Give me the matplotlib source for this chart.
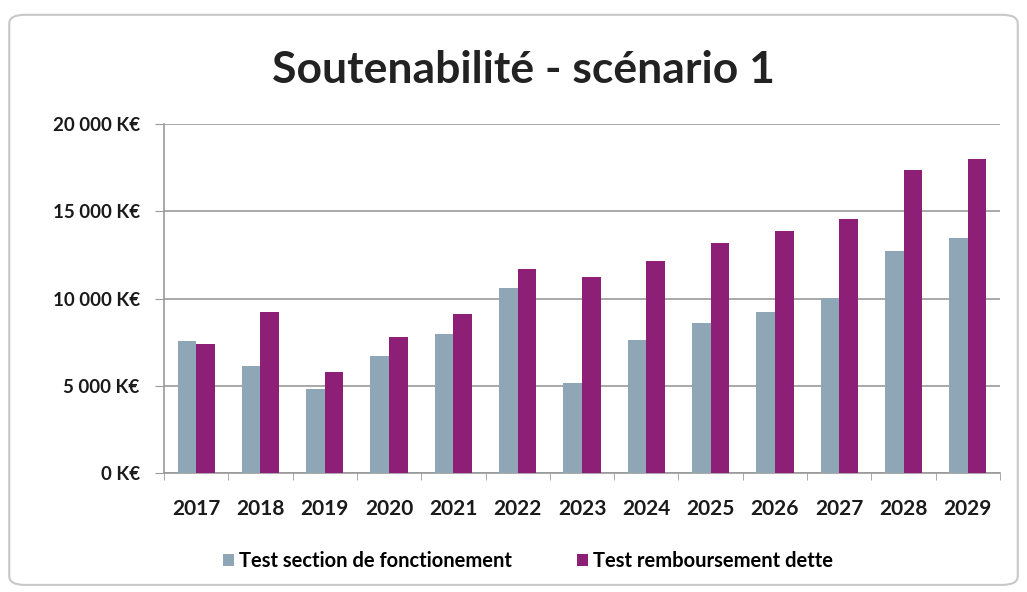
import matplotlib.pyplot as plt
import numpy as np
from matplotlib.patches import FancyBboxPatch

plt.rcParams['font.family'] = ['Lato', 'DejaVu Sans']

years = ['2017', '2018', '2019', '2020', '2021', '2022', '2023',
         '2024', '2025', '2026', '2027', '2028', '2029']
test_fonctionnement = [7560, 6130, 4830, 6700, 7990, 10630, 5180,
                       7610, 8570, 9210, 10030, 12730, 13440]
test_remboursement = [7370, 9250, 5800, 7820, 9100, 11680, 11210,
                      12160, 13190, 13880, 14540, 17370, 18000]

grey = '#8fa6b6'
purple = '#8e1f76'

fig = plt.figure(figsize=(10.27, 5.92), dpi=100)

# outer rounded frame, kept behind the axes
frame = FancyBboxPatch((0.009, 0.012), 0.982, 0.963, boxstyle='round,pad=0,rounding_size=0.015',
                       transform=fig.transFigure, facecolor='white', edgecolor='#c8c8c8',
                       linewidth=1.5, zorder=-5)
fig.patches.append(frame)

ax = fig.add_axes([0.1597, 0.201, 0.814, 0.5895])
ax.patch.set_alpha(0)
x = np.arange(len(years))
w = 0.29
ax.bar(x - w / 2, test_fonctionnement, w, color=grey, label='Test section de fonctionement', zorder=3)
ax.bar(x + w / 2, test_remboursement, w, color=purple, label='Test remboursement dette', zorder=3)

ax.set_xlim(-0.5, len(years) - 0.5)
ax.set_ylim(0, 20000)
ax.set_yticks(range(0, 20001, 5000))
ax.set_yticklabels(['0 K€', '5 000 K€', '10 000 K€', '15 000 K€', '20 000 K€'],
                   fontsize=13.5, fontweight='bold', color='#1a1a1a')
ax.yaxis.grid(True, color='#9a9a9a', linewidth=1.2, zorder=0)
ax.tick_params(axis='y', length=6.5, color='#9a9a9a', pad=11)

ax.set_xticks(x)
ax.set_xticklabels(years, fontsize=15, fontweight='bold', color='#1a1a1a')
ax.set_xticks(np.arange(-0.5, len(years)), minor=True)
ax.tick_params(axis='x', which='major', length=0, pad=19)
ax.tick_params(axis='x', which='minor', length=5, color='#9a9a9a')

for s in ['top', 'right']:
    ax.spines[s].set_visible(False)
for s in ['left', 'bottom']:
    ax.spines[s].set_color('#9a9a9a')
    ax.spines[s].set_linewidth(1.2)

fig.text(0.51, 0.882, 'Soutenabilité - scénario 1', ha='center', va='center',
         fontsize=32, fontweight='bold', color='#222222')

fig.legend(loc='center', bbox_to_anchor=(0.514, 0.052), ncol=2, frameon=False,
           prop={'size': 14.5, 'weight': 'bold'}, handlelength=0.55, handleheight=0.55,
           handletextpad=0.25, columnspacing=3.2)

fig.savefig('out.png', dpi=100)
